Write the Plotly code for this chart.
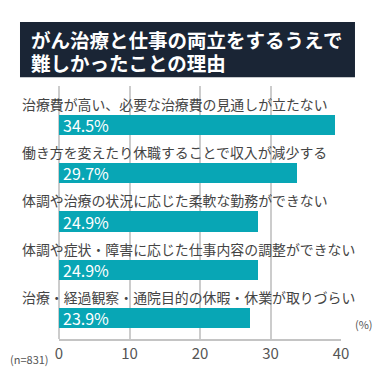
import plotly.graph_objects as go

# ---- data ----
categories = [
    "治療費が高い、必要な治療費の見通しが立たない",
    "働き方を変えたり休職することで収入が減少する",
    "体調や治療の状況に応じた柔軟な勤務ができない",
    "体調や症状・障害に応じた仕事内容の調整ができない",
    "治療・経過観察・通院目的の休暇・休業が取りづらい",
]
# bar lengths as drawn against the axis in the picture
bar_lengths = [39.1, 33.8, 28.2, 28.2, 27.1]
# percentages printed on the bars
percent_labels = ["34.5%", "29.7%", "24.9%", "24.9%", "23.9%"]
tick_values = [0, 10, 20, 30, 40]
tick_labels = ["0", "10", "20", "30", "40"]
title_lines = ["がん治療と仕事の両立をするうえで", "難しかったことの理由"]
sample_note = "(n=831)"
unit_note = "(%)"

FONT = "Noto Sans CJK JP"
BAR_COLOR = "#08a6b5"
NAVY = "#1a2535"

positions = list(range(len(categories)))

fig = go.Figure()
fig.add_trace(go.Bar(
    x=bar_lengths,
    y=positions,
    orientation="h",
    width=0.42,
    marker=dict(color=BAR_COLOR, line=dict(width=0)),
    hoverinfo="skip",
))

# value labels inside bars (left aligned)
for pos, lab in zip(positions, percent_labels):
    fig.add_annotation(
        x=0, xref="x", y=pos, yref="y", xshift=2,
        text=lab, showarrow=False, xanchor="left", yanchor="middle",
        font=dict(family=FONT, size=16, color="white"),
    )

# category labels above the bars
for pos, cat in zip(positions, categories):
    fig.add_annotation(
        x=-0.138, xref="paper", y=pos - 0.44, yref="y",
        text=cat, showarrow=False, xanchor="left", yanchor="middle",
        font=dict(family=FONT, size=13.9, color="#444444"),
    )

# title box
fig.add_shape(type="rect", xref="paper", yref="paper",
              x0=-0.1383, x1=1.0496, y0=1.035, y1=1.253,
              fillcolor=NAVY, line=dict(width=0), layer="above")
fig.add_annotation(x=-0.106, xref="paper", y=1.182, yref="paper",
                   text="<b>" + title_lines[0] + "</b>", showarrow=False,
                   xanchor="left", yanchor="middle",
                   font=dict(family=FONT, size=19.5, color="white"))
fig.add_annotation(x=-0.106, xref="paper", y=1.093, yref="paper",
                   text="<b>" + title_lines[1] + "</b>", showarrow=False,
                   xanchor="left", yanchor="middle",
                   font=dict(family=FONT, size=19.5, color="white"))

# notes
fig.add_annotation(x=1.08, xref="paper", y=0.02, yref="paper",
                   text=unit_note, showarrow=False, xanchor="center", yanchor="bottom",
                   font=dict(family=FONT, size=11, color="#555555"))
fig.add_annotation(x=-0.103, xref="paper", y=-0.078, yref="paper",
                   text=sample_note, showarrow=False, xanchor="center", yanchor="middle",
                   font=dict(family=FONT, size=11, color="#555555"))

fig.update_layout(
    width=375, height=375,
    margin=dict(l=59, r=34, t=86, b=32),
    paper_bgcolor="white", plot_bgcolor="white",
    showlegend=False,
    bargap=0,
    xaxis=dict(
        range=[0, 40], tickvals=tick_values, ticktext=tick_labels,
        showgrid=True, gridcolor="#cccccc", gridwidth=1.5,
        zeroline=True, zerolinecolor="#cccccc", zerolinewidth=1.5,
        showline=True, linecolor="#c4c4c4", linewidth=2,
        ticks="", ticklen=0,
        tickfont=dict(family=FONT, size=15, color="#555555"),
        fixedrange=True,
    ),
    yaxis=dict(
        range=[4.43, -0.806], showticklabels=False, showgrid=False,
        zeroline=False, showline=False, fixedrange=True,
    ),
)

fig.write_html("out.html", config={"displayModeBar": False},
               post_script="document.body.style.margin='0';document.body.style.overflow='hidden';")
